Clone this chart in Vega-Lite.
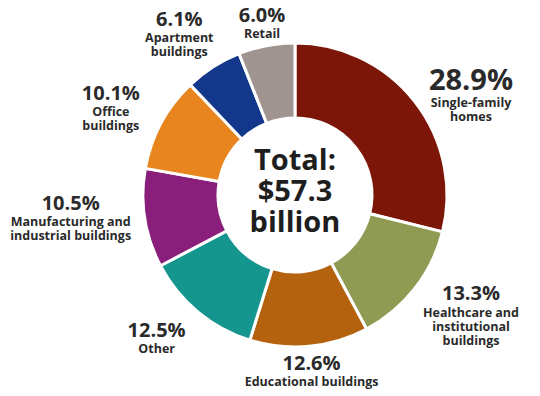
{
  "$schema": "https://vega.github.io/schema/vega-lite/v6.json",
  "width": 490,
  "height": 390,
  "autosize": {"type": "none"},
  "padding": {"left": 50, "top": 0, "right": 0, "bottom": 6},
  "background": "white",
  "config": {"view": {"stroke": null}, "font": "Open Sans"},
  "datasets": {
    "slices": [
      {"rank": 1, "cat": "Single-family homes", "value": 28.9, "pct": "28.9%", "name": "Single-family\nhomes"},
      {"rank": 2, "cat": "Healthcare and institutional buildings", "value": 13.3, "pct": "13.3%", "name": "Healthcare and\ninstitutional\nbuildings"},
      {"rank": 3, "cat": "Educational buildings", "value": 12.6, "pct": "12.6%", "name": "Educational buildings"},
      {"rank": 4, "cat": "Other", "value": 12.5, "pct": "12.5%", "name": "Other"},
      {"rank": 5, "cat": "Manufacturing and industrial buildings", "value": 10.5, "pct": "10.5%", "name": "Manufacturing and\nindustrial buildings"},
      {"rank": 6, "cat": "Office buildings", "value": 10.1, "pct": "10.1%", "name": "Office\nbuildings"},
      {"rank": 7, "cat": "Apartment buildings", "value": 6.1, "pct": "6.1%", "name": "Apartment\nbuildings"},
      {"rank": 8, "cat": "Retail", "value": 6.0, "pct": "6.0%", "name": "Retail"}
    ],
    "center": [{"t": "Total:\n$57.3\nbillion"}]
  },
  "layer": [
    {
      "data": {"name": "slices"},
      "mark": {"type": "arc", "radius": 152, "radius2": 77, "stroke": "white", "strokeWidth": 3},
      "encoding": {
        "theta": {"field": "value", "type": "quantitative", "stack": true},
        "order": {"field": "rank", "type": "quantitative"},
        "color": {
          "field": "cat", "type": "nominal", "legend": null,
          "scale": {
            "domain": ["Single-family homes", "Healthcare and institutional buildings", "Educational buildings", "Other", "Manufacturing and industrial buildings", "Office buildings", "Apartment buildings", "Retail"],
            "range": ["#7c1608", "#8f9a52", "#b5620e", "#14968e", "#8a1f7b", "#e8851e", "#13378a", "#a09490"]
          }
        }
      }
    },
    {
      "data": {"name": "slices"},
      "mark": {"type": "text", "radius": 176, "fontWeight": "bold", "baseline": "alphabetic", "align": "center", "color": "#2a2a2a"},
      "encoding": {
        "theta": {"field": "value", "type": "quantitative", "stack": true},
        "order": {"field": "rank", "type": "quantitative"},
        "size": {"value": 20},
        "text": {"condition": {"test": "datum.cat == 'Retail' || datum.cat == 'Educational buildings'", "field": "pct"}, "value": ""}
      }
    },
    {
      "data": {"name": "slices"},
      "mark": {"type": "text", "radius": 176, "fontWeight": "bold", "baseline": "top", "align": "center", "dy": 6, "lineBreak": "\n", "lineHeight": 14, "color": "#2a2a2a"},
      "encoding": {
        "theta": {"field": "value", "type": "quantitative", "stack": true},
        "order": {"field": "rank", "type": "quantitative"},
        "size": {"value": 12.5},
        "text": {"condition": {"test": "datum.cat == 'Retail' || datum.cat == 'Educational buildings'", "field": "name"}, "value": ""}
      }
    },
    {
      "data": {"name": "slices"},
      "mark": {"type": "text", "radius": 170, "dx": 42, "fontWeight": "bold", "baseline": "alphabetic", "align": "center", "color": "#2a2a2a"},
      "encoding": {
        "theta": {"field": "value", "type": "quantitative", "stack": true},
        "order": {"field": "rank", "type": "quantitative"},
        "size": {"condition": {"test": "datum.cat == 'Single-family homes'", "value": 29}, "value": 20},
        "text": {"condition": {"test": "datum.cat == 'Single-family homes' || datum.cat == 'Healthcare and institutional buildings'", "field": "pct"}, "value": ""}
      }
    },
    {
      "data": {"name": "slices"},
      "mark": {"type": "text", "radius": 170, "dx": 42, "fontWeight": "bold", "baseline": "top", "align": "center", "dy": 7, "lineBreak": "\n", "lineHeight": 14, "color": "#2a2a2a"},
      "encoding": {
        "theta": {"field": "value", "type": "quantitative", "stack": true},
        "order": {"field": "rank", "type": "quantitative"},
        "size": {"value": 12.5},
        "text": {"condition": {"test": "datum.cat == 'Single-family homes' || datum.cat == 'Healthcare and institutional buildings'", "field": "name"}, "value": ""}
      }
    },
    {
      "data": {"name": "slices"},
      "mark": {"type": "text", "radius": 200, "dx": -8, "fontWeight": "bold", "baseline": "alphabetic", "align": "center", "color": "#2a2a2a"},
      "encoding": {
        "theta": {"field": "value", "type": "quantitative", "stack": true},
        "order": {"field": "rank", "type": "quantitative"},
        "size": {"value": 20},
        "text": {"condition": {"test": "datum.cat == 'Office buildings' || datum.cat == 'Apartment buildings'", "field": "pct"}, "value": ""}
      }
    },
    {
      "data": {"name": "slices"},
      "mark": {"type": "text", "radius": 200, "dx": -8, "fontWeight": "bold", "baseline": "top", "align": "center", "dy": 6, "lineBreak": "\n", "lineHeight": 14, "color": "#2a2a2a"},
      "encoding": {
        "theta": {"field": "value", "type": "quantitative", "stack": true},
        "order": {"field": "rank", "type": "quantitative"},
        "size": {"value": 12.5},
        "text": {"condition": {"test": "datum.cat == 'Office buildings' || datum.cat == 'Apartment buildings'", "field": "name"}, "value": ""}
      }
    },
    {
      "data": {"name": "slices"},
      "mark": {"type": "text", "radius": 185, "dx": -20, "fontWeight": "bold", "baseline": "alphabetic", "align": "center", "color": "#2a2a2a"},
      "encoding": {
        "theta": {"field": "value", "type": "quantitative", "stack": true},
        "order": {"field": "rank", "type": "quantitative"},
        "size": {"value": 20},
        "text": {"condition": {"test": "datum.cat == 'Other'", "field": "pct"}, "value": ""}
      }
    },
    {
      "data": {"name": "slices"},
      "mark": {"type": "text", "radius": 185, "dx": -20, "fontWeight": "bold", "baseline": "top", "align": "center", "dy": 6, "lineBreak": "\n", "lineHeight": 14, "color": "#2a2a2a"},
      "encoding": {
        "theta": {"field": "value", "type": "quantitative", "stack": true},
        "order": {"field": "rank", "type": "quantitative"},
        "size": {"value": 12.5},
        "text": {"condition": {"test": "datum.cat == 'Other'", "field": "name"}, "value": ""}
      }
    },
    {
      "data": {"name": "slices"},
      "mark": {"type": "text", "radius": 227, "fontWeight": "bold", "baseline": "alphabetic", "align": "center", "dy": -20, "color": "#2a2a2a"},
      "encoding": {
        "theta": {"field": "value", "type": "quantitative", "stack": true},
        "order": {"field": "rank", "type": "quantitative"},
        "size": {"value": 20},
        "text": {"condition": {"test": "datum.cat == 'Manufacturing and industrial buildings'", "field": "pct"}, "value": ""}
      }
    },
    {
      "data": {"name": "slices"},
      "mark": {"type": "text", "radius": 227, "fontWeight": "bold", "baseline": "top", "align": "center", "dy": -14, "lineBreak": "\n", "lineHeight": 14, "color": "#2a2a2a"},
      "encoding": {
        "theta": {"field": "value", "type": "quantitative", "stack": true},
        "order": {"field": "rank", "type": "quantitative"},
        "size": {"value": 12.5},
        "text": {"condition": {"test": "datum.cat == 'Manufacturing and industrial buildings'", "field": "name"}, "value": ""}
      }
    },
    {
      "data": {"name": "center"},
      "mark": {"type": "text", "fontWeight": "bold", "fontSize": 29, "lineHeight": 31, "lineBreak": "\n", "baseline": "alphabetic", "align": "center", "dy": -25, "color": "#1e1e1e"},
      "encoding": {
        "text": {"field": "t", "type": "nominal"}
      }
    }
  ]
}
